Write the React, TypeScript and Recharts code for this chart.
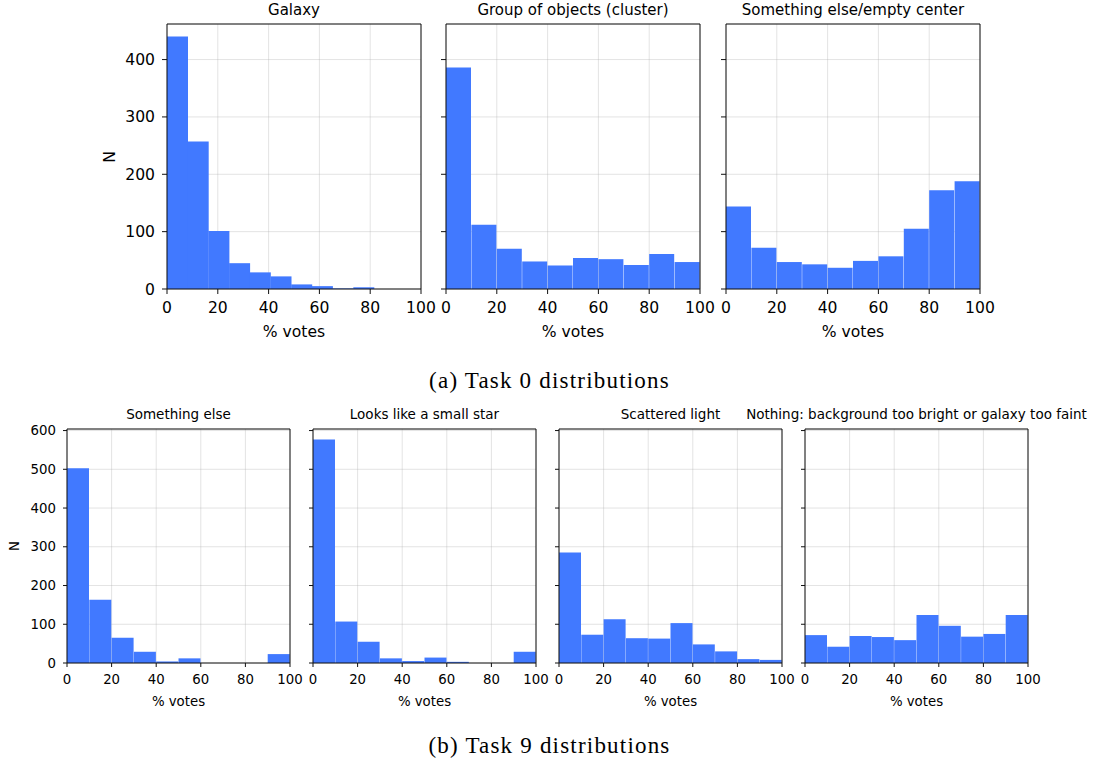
import React from 'react';
import { BarChart, Bar, XAxis, YAxis, CartesianGrid, ReferenceLine } from 'recharts';

// x ticks shared by every panel (% votes)
const xTicks = [0, 20, 40, 60, 80, 100];
const task0YTicks = [0, 100, 200, 300, 400];
const task9YTicks = [0, 100, 200, 300, 400, 500, 600];

// Task 0 histograms (10 bins each)
const galaxyCounts = [440, 257, 101, 45, 29, 22, 8, 5, 1, 3];
const clusterCounts = [386, 112, 70, 48, 41, 54, 52, 42, 61, 47];
const emptyCenterCounts = [144, 72, 47, 43, 37, 49, 57, 105, 172, 188];

// Task 9 histograms
const somethingElseCounts = [503, 163, 65, 29, 4, 12, 0, 0, 0, 23];
const smallStarCounts = [577, 107, 55, 12, 5, 14, 3, 0, 0, 29];
const scatteredCounts = [285, 73, 113, 64, 63, 103, 48, 30, 10, 8];
const nothingCounts = [72, 42, 70, 67, 59, 124, 96, 68, 75, 124];

// galaxy votes never go past ~81.5%, so its 10 bins are narrower
const galaxyBinWidth = 8.15;
const binWidth = 10;

const BLUE = '#4179ff';
const FONT = '"DejaVu Sans", sans-serif';

const toBins = (counts: number[], width: number) =>
  counts.map((n, i) => ({ x: (i + 0.5) * width, n }));

type PanelProps = {
  left: number;
  top: number;
  plotW: number;
  plotH: number;
  title: string;
  counts: number[];
  width?: number;
  yMax: number;
  yTicks: number[];
  showY: boolean;
  fontSize: number;
  titleSize: number;
  tickSize: number;
  titleTop: number;
  nLeft: number;
  labelOffset: number;
};

const LM = 70;
const TM = 30;
const RM = 30;
const XH = 60;

const Panel: React.FC<PanelProps> = ({
  left, top, plotW, plotH, title, counts, width = binWidth, yMax, yTicks, showY,
  fontSize, titleSize, tickSize, titleTop, nLeft, labelOffset,
}) => {
  const data = toBins(counts, width);
  const tickStyle = { fontSize, fill: '#000', fontFamily: FONT };
  return (
    <div style={{ position: 'absolute', left: left - LM, top: top - TM }}>
      {/* title, centred over the plot even when wider than it */}
      <div
        style={{
          position: 'absolute', left: LM + plotW / 2 - 300, width: 600, top: titleTop,
          textAlign: 'center', fontFamily: FONT, fontSize: titleSize, color: '#000', whiteSpace: 'nowrap',
          lineHeight: `${titleSize + 2}px`,
        }}
      >
        {title}
      </div>
      {showY && (
        <div
          style={{
            position: 'absolute', left: LM - nLeft - 10, top: TM + plotH / 2 - 10, width: 20, height: 20,
            transform: 'rotate(-90deg)', textAlign: 'center', fontFamily: FONT, fontSize, lineHeight: '20px',
          }}
        >
          N
        </div>
      )}
      <BarChart
        width={LM + plotW + RM}
        height={TM + plotH + XH}
        data={data}
        margin={{ top: TM, right: 0, bottom: 0, left: 0 }}
        barCategoryGap={0}
        barGap={0}
      >
        <XAxis
          dataKey="x"
          type="number"
          domain={[0, 100]}
          ticks={xTicks}
          height={XH}
          stroke="#111"
          tickSize={tickSize}
          tickMargin={8}
          tick={tickStyle}
          label={{ value: '% votes', position: 'insideBottom', offset: labelOffset, style: tickStyle }}
        />
        <YAxis
          type="number"
          domain={[0, yMax]}
          ticks={yTicks}
          width={LM}
          stroke="#111"
          tickSize={tickSize}
          tickMargin={7}
          tick={tickStyle}
          tickFormatter={(v: number) => (showY ? String(v) : '')}
        />
        <YAxis yAxisId="right" orientation="right" type="number" domain={[0, yMax]} width={RM} tick={false} tickLine={false} stroke="#111" />
        <Bar dataKey="n" fill={BLUE} isAnimationActive={false} />
        <CartesianGrid stroke="#b0b0b0" strokeOpacity={0.35} />
        {/* top edge of the frame */}
        <ReferenceLine y={yMax} stroke="#111" strokeWidth={1} />
      </BarChart>
    </div>
  );
};

const captionStyle: React.CSSProperties = {
  position: 'absolute', left: 0, width: 1099, textAlign: 'center',
  fontFamily: '"Liberation Serif", serif', fontSize: 23, letterSpacing: 1.2, color: '#000',
};

export default function App() {
  const row0 = {
    top: 24, plotW: 254, plotH: 265, yMax: 462, yTicks: task0YTicks,
    fontSize: 15.6, titleSize: 15, tickSize: 5, titleTop: 8, nLeft: 57, labelOffset: 12,
  };
  const row9 = {
    top: 429, plotW: 223, plotH: 234, yMax: 604, yTicks: task9YTicks,
    fontSize: 13.3, titleSize: 13.5, tickSize: 4, titleTop: 8, nLeft: 52, labelOffset: 17,
  };
  return (
    <div style={{ position: 'absolute', left: 0, top: 0, width: 1099, height: 765, background: '#fff', overflow: 'hidden' }}>
      <Panel {...row0} left={167} title="Galaxy" counts={galaxyCounts} width={galaxyBinWidth} showY />
      <Panel {...row0} left={446} title="Group of objects (cluster)" counts={clusterCounts} showY={false} />
      <Panel {...row0} left={726} title="Something else/empty center" counts={emptyCenterCounts} showY={false} />
      <div style={{ ...captionStyle, top: 368 }}>(a) Task 0 distributions</div>

      <Panel {...row9} left={67} title="Something else" counts={somethingElseCounts} showY />
      <Panel {...row9} left={313} title="Looks like a small star" counts={smallStarCounts} showY={false} />
      <Panel {...row9} left={559} title="Scattered light" counts={scatteredCounts} showY={false} />
      <Panel
        {...row9}
        left={805}
        title="Nothing: background too bright or galaxy too faint"
        counts={nothingCounts}
        showY={false}
      />
      <div style={{ ...captionStyle, top: 733 }}>(b) Task 9 distributions</div>
    </div>
  );
}
